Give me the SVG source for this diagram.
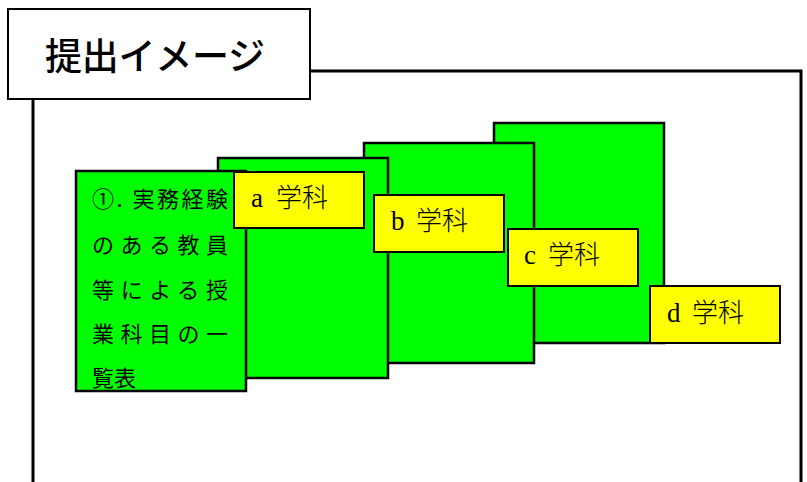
<svg xmlns="http://www.w3.org/2000/svg" width="807" height="482" viewBox="0 0 807 482">
<style>
.frame{fill:none;stroke:#000;stroke-width:3}
.sheet{fill:#00ff00;stroke:#000;stroke-width:2.5}
.tag{fill:#ffff00;stroke:#000;stroke-width:2}
.tagtxt{font-family:"Liberation Serif","Noto Sans CJK JP",serif;font-size:27px;fill:#000}
.cjk{font-family:"Noto Sans CJK JP",sans-serif;font-size:26px;font-weight:300}
.body{font-family:"Noto Sans CJK JP","Noto Sans",sans-serif;font-size:22px;fill:#000}
.title{font-family:"Noto Sans CJK JP","Noto Sans",sans-serif;font-size:37px;font-weight:500;fill:#000}
</style>
<rect width="807" height="482" fill="#fff"/>
<g id="frame">
<polyline class="frame" points="310,71 801,71 801,482"/>
<line class="frame" x1="33" y1="99" x2="33" y2="482"/>
</g>
<g id="title">
<rect x="8" y="9" width="302" height="90" fill="#fff" stroke="#000" stroke-width="2"/>
<text class="title" x="45" y="70" textLength="220" lengthAdjust="spacing">提出イメージ</text>
</g>
<g id="connectors"></g>
<g id="sheet-d"><rect class="sheet" x="494" y="123" width="170" height="220"/></g>
<g id="sheet-c"><rect class="sheet" x="364" y="143" width="170" height="220"/></g>
<g id="sheet-b"><rect class="sheet" x="218" y="158" width="170" height="220"/></g>
<g id="sheet-main">
<rect class="sheet" x="76" y="171" width="170" height="220"/>
<text class="body" x="92" y="207" textLength="136" lengthAdjust="spacing">①. 実務経験</text>
<text class="body" x="92" y="253" textLength="136" lengthAdjust="spacing">のある教員</text>
<text class="body" x="92" y="298" textLength="136" lengthAdjust="spacing">等による授</text>
<text class="body" x="92" y="342" textLength="136" lengthAdjust="spacing">業科目の一</text>
<text class="body" x="92" y="386">覧表</text>
</g>
<g id="label-a"><rect class="tag" x="234" y="172" width="130" height="56"/><text class="tagtxt" x="251" y="207">a<tspan class="cjk" x="276">学科</tspan></text></g>
<g id="label-b"><rect class="tag" x="374" y="195" width="130" height="57"/><text class="tagtxt" x="391" y="230">b<tspan class="cjk" x="416">学科</tspan></text></g>
<g id="label-c"><rect class="tag" x="508" y="229" width="130" height="57"/><text class="tagtxt" x="524" y="264">c<tspan class="cjk" x="548">学科</tspan></text></g>
<g id="label-d"><rect class="tag" x="650" y="286" width="130" height="57"/><text class="tagtxt" x="667" y="322">d<tspan class="cjk" x="692">学科</tspan></text></g>
</svg>
